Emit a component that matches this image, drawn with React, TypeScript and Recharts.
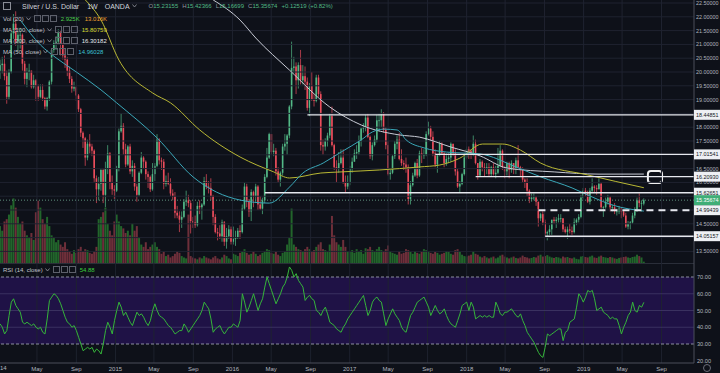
import React from "react";
import { ComposedChart, Bar, Line, XAxis, YAxis, ReferenceLine, ReferenceArea } from "recharts";

// weekly candles [open, high, low, close], week 0 = 6 Jan 2014
const ohlc2014 = [
  [20.05, 20.45, 19.75, 20.25], [20.25, 20.55, 19.95, 20.3], [20.3, 20.6, 19.7, 19.85], [19.85, 20.05, 18.85, 19.1],
  [19.1, 20.1, 19.0, 20.0], [20.0, 21.5, 19.95, 21.4], [21.4, 22.1, 21.2, 21.75], [21.75, 22.2, 20.95, 21.1],
  [21.1, 21.6, 20.7, 21.35], [21.35, 21.6, 20.85, 21.35], [21.35, 21.4, 20.05, 20.3], [20.3, 20.4, 19.55, 19.75],
  [19.75, 20.15, 19.45, 20.0], [20.0, 20.3, 19.7, 20.05], [20.05, 20.05, 19.4, 19.45], [19.45, 19.9, 19.4, 19.7],
  [19.7, 19.75, 18.95, 19.5], [19.5, 19.55, 18.95, 19.1], [19.1, 19.55, 19.05, 19.35], [19.35, 19.55, 18.95, 19.05],
  [19.05, 19.1, 18.65, 18.75], [18.75, 19.1, 18.6, 19.05], [19.05, 19.7, 18.95, 19.65], [19.65, 20.85, 19.55, 20.8],
  [20.8, 21.15, 20.7, 21.05], [21.05, 21.3, 20.8, 21.1], [21.1, 21.55, 21.0, 21.45], [21.45, 21.5, 20.6, 21.0],
  [21.0, 21.05, 20.45, 20.6], [20.6, 20.85, 20.15, 20.45], [20.45, 20.55, 19.85, 20.05], [20.05, 20.2, 19.6, 19.75],
  [19.75, 19.85, 19.25, 19.4], [19.4, 19.65, 19.3, 19.45], [19.45, 19.5, 18.95, 19.15], [19.15, 19.2, 18.55, 18.65],
  [18.65, 18.7, 17.65, 17.8], [17.8, 17.85, 17.25, 17.6], [17.6, 17.65, 16.6, 16.9], [16.9, 17.55, 16.8, 17.4],
  [17.4, 17.75, 17.05, 17.3], [17.3, 17.4, 16.95, 17.15], [17.15, 17.2, 16.0, 16.15], [16.15, 16.25, 15.25, 15.75],
  [15.75, 16.2, 15.35, 15.95], [15.95, 16.5, 15.7, 16.45], [16.45, 16.5, 15.25, 15.55], [15.55, 16.75, 15.1, 16.5],
  [16.5, 17.35, 16.3, 17.05], [17.05, 17.1, 15.75, 16.0], [16.0, 16.25, 15.55, 15.75], [15.75, 15.9, 15.4, 15.7],
];
const ohlc2015 = [
  [15.7, 16.6, 15.65, 16.5], [16.5, 17.95, 16.4, 17.85], [17.85, 18.5, 17.8, 18.05], [18.05, 18.15, 17.0, 17.2],
  [17.2, 17.4, 16.55, 16.65], [16.65, 17.35, 16.6, 17.3], [17.3, 17.4, 16.3, 16.4], [16.4, 16.8, 16.2, 16.6],
  [16.6, 16.7, 15.7, 15.85], [15.85, 15.95, 15.3, 15.55], [15.55, 16.4, 15.5, 16.35], [16.35, 17.1, 16.3, 16.9],
  [16.9, 16.95, 16.5, 16.75], [16.75, 16.8, 16.1, 16.3], [16.3, 16.4, 15.8, 16.2], [16.2, 16.25, 15.65, 15.75],
  [15.75, 16.7, 15.7, 16.3], [16.3, 16.7, 16.05, 16.6], [16.6, 17.75, 16.55, 17.55], [17.55, 17.6, 16.65, 16.8],
  [16.8, 16.9, 16.45, 16.75], [16.75, 16.85, 15.75, 15.95], [15.95, 16.25, 15.85, 16.05], [16.05, 16.35, 15.9, 15.95],
  [15.95, 16.15, 15.5, 15.6], [15.6, 15.75, 15.35, 15.5], [15.5, 15.65, 14.7, 14.9], [14.9, 15.15, 14.7, 14.8],
  [14.8, 14.95, 14.2, 14.65], [14.65, 14.95, 14.35, 14.75], [14.75, 15.4, 14.7, 15.3], [15.3, 15.7, 15.15, 15.35],
  [15.35, 15.55, 15.1, 15.25], [15.25, 15.35, 14.15, 14.6], [14.6, 14.75, 14.35, 14.55], [14.55, 14.8, 14.35, 14.45],
  [14.45, 15.3, 14.4, 15.15], [15.15, 15.35, 14.85, 15.1], [15.1, 15.25, 14.65, 15.2], [15.2, 16.2, 15.15, 16.05],
  [16.05, 16.3, 15.75, 15.85], [15.85, 16.05, 15.6, 15.8], [15.8, 16.15, 15.35, 15.5], [15.5, 15.55, 14.45, 14.75],
  [14.75, 14.85, 14.15, 14.2], [14.2, 14.35, 13.9, 14.15], [14.15, 14.45, 13.95, 14.05], [14.05, 14.65, 13.85, 14.55],
  [14.55, 14.6, 13.7, 13.85], [13.85, 14.35, 13.6, 14.05], [14.05, 14.45, 13.95, 14.3], [14.3, 14.4, 13.75, 13.85],
];
const ohlc2016 = [
  [13.85, 14.4, 13.75, 13.95], [13.95, 14.25, 13.7, 14.0], [14.0, 14.35, 13.95, 14.25], [14.25, 14.45, 13.95, 14.2],
  [14.2, 15.2, 14.15, 15.05], [15.05, 16.0, 15.0, 15.85], [15.85, 15.95, 15.1, 15.3], [15.3, 15.4, 14.75, 14.95],
  [14.95, 15.75, 14.6, 15.65], [15.65, 15.7, 15.1, 15.5], [15.5, 15.95, 15.25, 15.85], [15.85, 15.9, 15.0, 15.2],
  [15.2, 15.5, 15.0, 15.05], [15.05, 15.45, 14.85, 15.35], [15.35, 16.3, 15.25, 16.2], [16.2, 17.25, 16.15, 16.9],
  [16.9, 17.8, 16.85, 17.75], [17.75, 17.75, 17.0, 17.1], [17.1, 17.4, 16.95, 17.15], [17.15, 17.25, 16.25, 16.4],
  [16.4, 16.55, 16.0, 16.1], [16.1, 16.4, 15.85, 16.35], [16.35, 17.4, 16.25, 17.3], [17.3, 17.75, 17.15, 17.4],
  [17.4, 17.75, 17.0, 17.7], [17.7, 18.8, 17.6, 18.75], [18.75, 21.1, 18.65, 20.15], [20.15, 20.55, 19.95, 20.2],
  [20.2, 20.35, 19.2, 19.7], [19.7, 20.35, 19.4, 20.25], [20.25, 20.8, 19.55, 19.7], [19.7, 20.25, 19.55, 19.85],
  [19.85, 20.2, 19.35, 19.65], [19.65, 19.8, 18.6, 18.7], [18.7, 19.6, 18.4, 19.5], [19.5, 20.0, 18.95, 19.0],
  [19.0, 19.2, 18.75, 18.95], [18.95, 19.9, 18.9, 19.8], [19.8, 19.9, 19.1, 19.2], [19.2, 19.3, 17.15, 17.35],
  [17.35, 17.55, 17.0, 17.3], [17.3, 17.6, 17.15, 17.5], [17.5, 17.8, 17.3, 17.7], [17.7, 18.5, 17.6, 18.4],
  [18.4, 18.75, 17.3, 17.35], [17.35, 17.4, 16.45, 16.55], [16.55, 16.8, 16.0, 16.5], [16.5, 17.1, 16.35, 16.7],
  [16.7, 17.2, 16.65, 16.9], [16.9, 17.2, 15.95, 16.0], [16.0, 16.25, 15.65, 15.85], [15.85, 16.25, 15.75, 16.0],
];
const ohlc2017 = [
  [16.0, 16.6, 15.9, 16.5], [16.5, 16.9, 16.35, 16.75], [16.75, 17.2, 16.75, 17.05], [17.05, 17.35, 16.85, 17.1],
  [17.1, 17.7, 17.0, 17.5], [17.5, 18.0, 17.3, 17.95], [17.95, 18.15, 17.8, 18.0], [18.0, 18.45, 17.85, 18.35],
  [18.35, 18.5, 17.6, 17.65], [17.65, 17.7, 16.85, 16.95], [16.95, 17.45, 16.8, 17.35], [17.35, 17.7, 17.3, 17.55],
  [17.55, 18.45, 17.45, 18.25], [18.25, 18.5, 17.85, 18.25], [18.25, 18.65, 18.0, 18.5], [18.5, 18.55, 17.8, 17.9],
  [17.9, 18.0, 17.2, 17.35], [17.35, 17.5, 16.25, 16.3], [16.3, 16.45, 16.1, 16.35], [16.35, 17.0, 16.3, 16.95],
  [16.95, 17.5, 16.85, 17.4], [17.4, 17.7, 17.2, 17.55], [17.55, 17.8, 16.8, 16.85], [16.85, 17.2, 16.6, 16.7],
  [16.7, 16.8, 16.45, 16.65], [16.65, 16.9, 16.35, 16.55], [16.55, 16.65, 15.2, 15.4], [15.4, 16.05, 15.2, 15.9],
  [15.9, 16.35, 15.85, 16.25], [16.25, 16.75, 16.2, 16.7], [16.7, 16.85, 16.15, 16.25], [16.25, 17.15, 16.2, 17.05],
  [17.05, 17.25, 16.7, 17.0], [17.0, 17.2, 16.85, 17.0], [17.0, 17.85, 16.95, 17.75], [17.75, 18.2, 17.7, 17.95],
  [17.95, 18.05, 17.5, 17.65], [17.65, 17.85, 16.95, 17.05], [17.05, 17.2, 16.55, 16.65], [16.65, 16.8, 16.35, 17.0],
  [17.0, 17.5, 16.95, 17.4], [17.4, 17.45, 17.0, 17.05], [17.05, 17.1, 16.55, 16.7], [16.7, 17.05, 16.6, 16.85],
  [16.85, 17.05, 16.7, 16.9], [16.9, 17.45, 16.75, 17.4], [17.4, 17.4, 16.95, 17.05], [17.05, 17.2, 16.25, 16.4],
  [16.4, 16.5, 15.8, 15.85], [15.85, 16.05, 15.65, 15.95], [15.95, 16.35, 15.9, 16.3], [16.3, 17.05, 16.25, 16.9],
];
const ohlc2018 = [
  [16.9, 17.3, 16.85, 17.2], [17.2, 17.3, 16.85, 17.15], [17.15, 17.2, 16.85, 17.05], [17.05, 17.7, 16.95, 17.4],
  [17.4, 17.55, 16.65, 16.7], [16.7, 16.7, 16.1, 16.25], [16.25, 16.85, 16.2, 16.75], [16.75, 16.8, 16.4, 16.55],
  [16.55, 16.7, 16.2, 16.5], [16.5, 16.7, 16.3, 16.55], [16.55, 16.7, 16.2, 16.3], [16.3, 16.6, 16.2, 16.55],
  [16.55, 16.7, 16.25, 16.3], [16.3, 16.6, 16.15, 16.35], [16.35, 17.25, 16.3, 16.6], [16.6, 17.35, 16.55, 17.15],
  [17.15, 17.2, 16.45, 16.55], [16.55, 16.6, 16.15, 16.4], [16.4, 16.75, 16.25, 16.7], [16.7, 16.75, 16.15, 16.45],
  [16.45, 16.8, 16.35, 16.7], [16.7, 16.7, 16.3, 16.45], [16.45, 16.9, 16.3, 16.8], [16.8, 17.35, 16.5, 16.55],
  [16.55, 16.6, 16.2, 16.5], [16.5, 16.55, 16.0, 16.1], [16.1, 16.15, 15.8, 16.0], [16.0, 16.15, 15.5, 15.7],
  [15.7, 15.75, 15.25, 15.4], [15.4, 15.6, 15.3, 15.45], [15.45, 15.6, 15.35, 15.45], [15.45, 15.5, 15.15, 15.3],
  [15.3, 15.3, 14.4, 14.7], [14.7, 14.9, 14.6, 14.85], [14.85, 14.95, 14.45, 14.55], [14.55, 14.65, 14.05, 14.15],
  [14.15, 14.25, 13.9, 14.2], [14.2, 14.45, 14.1, 14.3], [14.3, 14.45, 14.1, 14.65], [14.65, 14.75, 14.5, 14.6],
  [14.6, 14.75, 14.35, 14.65], [14.65, 14.85, 14.55, 14.7], [14.7, 14.85, 14.55, 14.7], [14.7, 14.7, 14.2, 14.3],
  [14.3, 14.4, 14.15, 14.2], [14.2, 14.4, 13.95, 14.3], [14.3, 14.5, 14.15, 14.25], [14.25, 14.4, 14.1, 14.2],
  [14.2, 14.7, 14.15, 14.55], [14.55, 14.7, 14.45, 14.65], [14.65, 14.85, 14.55, 14.75], [14.75, 15.55, 14.7, 15.45],
];
const ohlc2019 = [
  [15.45, 15.8, 15.4, 15.7], [15.7, 15.8, 15.5, 15.65], [15.65, 15.7, 15.25, 15.3], [15.3, 15.8, 15.2, 15.7],
  [15.7, 16.15, 15.65, 15.85], [15.85, 15.9, 15.65, 15.8], [15.8, 15.9, 15.55, 15.75], [15.75, 16.15, 15.75, 15.95],
  [15.95, 16.0, 15.05, 15.1], [15.1, 15.15, 14.75, 15.1], [15.1, 15.45, 15.05, 15.3], [15.3, 15.55, 15.2, 15.45],
  [15.45, 15.5, 14.95, 15.1], [15.1, 15.2, 14.95, 15.1], [15.1, 15.25, 14.85, 14.95], [14.95, 15.05, 14.8, 14.95],
  [14.95, 15.15, 14.85, 15.05], [15.05, 15.1, 14.7, 14.95], [14.95, 15.0, 14.75, 14.8], [14.8, 14.9, 14.35, 14.4],
  [14.4, 14.6, 14.3, 14.5], [14.5, 14.6, 14.3, 14.55], [14.55, 14.9, 14.5, 14.8], [14.8, 15.1, 14.7, 14.95],
  [14.95, 15.45, 14.95, 15.35], [15.35, 15.6, 15.1, 15.25], [15.25, 15.35, 14.95, 15.25], [15.23155, 15.42366, 15.16699, 15.35674],
];

// weekly volume, thousands
const vol2014 = [80, 70, 90, 95, 105, 125, 140, 120, 100, 85, 90, 70, 60, 55, 65, 50, 110, 135, 120, 95, 85, 100, 80, 60, 55, 45, 50, 40, 35, 45, 30, 25, 20, 28, 22, 30, 35, 25, 30, 28, 22, 20, 25, 35, 95, 100, 110, 120, 85, 70, 60, 90];
const vol2015 = [105, 90, 80, 75, 65, 70, 60, 85, 70, 80, 55, 40, 35, 45, 30, 35, 40, 45, 35, 30, 20, 25, 15, 18, 12, 15, 20, 25, 22, 15, 12, 10, 105, 15, 12, 10, 8, 12, 10, 15, 12, 10, 8, 12, 15, 10, 8, 12, 18, 15, 10, 8];
const vol2016 = [20, 18, 15, 22, 25, 30, 22, 18, 20, 25, 20, 15, 18, 22, 25, 30, 28, 22, 20, 25, 18, 15, 22, 25, 40, 55, 118, 40, 35, 30, 28, 25, 30, 35, 30, 25, 28, 35, 40, 45, 30, 28, 25, 40, 102, 60, 45, 40, 35, 50, 35, 25];
const vol2017 = [25, 28, 22, 30, 25, 28, 20, 32, 30, 35, 28, 25, 30, 35, 28, 25, 30, 38, 25, 22, 20, 18, 25, 20, 22, 30, 28, 24, 20, 26, 22, 20, 24, 30, 28, 25, 22, 20, 24, 22, 18, 20, 22, 26, 24, 20, 18, 28, 30, 24, 18, 15];
const vol2018 = [14, 16, 18, 26, 20, 18, 14, 12, 15, 12, 10, 12, 14, 10, 12, 16, 18, 14, 12, 10, 12, 14, 11, 10, 12, 16, 13, 12, 10, 11, 13, 12, 16, 18, 14, 15, 17, 14, 12, 11, 13, 12, 10, 14, 12, 13, 11, 10, 12, 9, 8, 14];
const vol2019 = [15, 13, 12, 14, 16, 12, 11, 14, 16, 13, 12, 11, 13, 12, 10, 9, 11, 12, 13, 14, 12, 11, 13, 14, 18, 15, 12, 2.925];

// RSI(14)
const rsi2014 = [42, 40, 36, 38, 47, 55, 57, 53, 51, 49, 43, 42, 43, 42, 41, 42, 40, 39, 40, 37, 36, 45, 56, 58, 60, 59, 57, 54, 50, 46, 43, 42, 40, 41, 38, 34, 30, 26, 27, 28, 27, 28, 25, 27, 26, 24, 30, 38, 43, 40, 36, 44];
const rsi2015 = [50, 55, 52, 47, 49, 46, 43, 41, 45, 49, 47, 48, 46, 43, 41, 44, 50, 54, 50, 47, 46, 45, 43, 41, 40, 38, 36, 37, 38, 38, 42, 40, 37, 39, 41, 43, 45, 47, 50, 55, 53, 51, 45, 37, 39, 40, 41, 38, 36, 38, 40, 40];
const rsi2016 = [42, 41, 40, 44, 60, 55, 49, 52, 56, 60, 55, 50, 54, 57, 64, 70, 66, 62, 58, 54, 57, 60, 64, 66, 70, 76, 74, 70, 72, 68, 66, 64, 56, 58, 59, 57, 56, 50, 49, 47, 50, 52, 48, 43, 42, 41, 39, 38, 37, 40, 42, 45];
const rsi2017 = [47, 49, 51, 53, 55, 57, 59, 53, 47, 50, 55, 57, 58, 56, 55, 48, 41, 45, 48, 51, 48, 46, 44, 40, 38, 37, 42, 47, 49, 52, 55, 56, 57, 58, 55, 52, 47, 50, 53, 50, 48, 49, 51, 47, 44, 42, 41, 40, 44, 48, 53, 54];
const rsi2018 = [55, 50, 55, 52, 45, 46, 47, 46, 47, 46, 47, 46, 46, 55, 52, 48, 47, 49, 49, 50, 51, 49, 47, 46, 48, 44, 41, 37, 35, 33, 31, 28, 25, 23, 22, 28, 36, 35, 36, 37, 38, 39, 39, 32, 37, 38, 43, 44, 45, 52, 60, 58];
const rsi2019 = [55, 58, 62, 61, 62, 57, 50, 51, 52, 49, 48, 47, 45, 46, 45, 45, 41, 36, 40, 43, 47, 49, 55, 50, 49, 53, 52, 54.88];

// moving averages: [week, value]
const ma50Pts = [[9, 21.88], [18, 20.98], [25, 20.51], [34, 20.0], [45, 19.35], [52, 18.88], [70, 17.61], [86, 16.2], [107, 15.36], [120, 15.25], [129, 15.83], [135, 16.34], [144, 16.7], [152, 17.1], [161, 17.54], [166, 17.83], [171, 17.93], [177, 17.9], [181, 17.54], [189, 17.25], [199, 17.1], [214, 17.03], [230, 16.56], [241, 16.2], [255, 15.8], [264, 15.47], [273, 15.18], [287, 14.96028]];
const ma100Pts = [[38, 22.61], [45, 21.88], [53, 20.43], [68, 19.24], [76, 18.88], [89, 17.9], [107, 16.92], [122, 16.38], [129, 16.16], [143, 16.34], [152, 16.38], [169, 16.45], [187, 16.56], [196, 16.63], [205, 16.88], [215, 17.39], [224, 17.39], [232, 17.17], [241, 16.7], [262, 16.27], [287, 15.80759]];
const ma200Pts = [[95, 22.61], [107, 21.88], [114, 21.23], [129, 20.07], [147, 18.73], [161, 18.08], [178, 17.72], [187, 17.64], [201, 17.28], [214, 16.96], [226, 16.52], [247, 16.38], [267, 16.3], [287, 16.30182]];

// drawn horizontal levels: value, first week
const levels = [
  { v: 18.44851, from: 137, dash: false },
  { v: 17.01541, from: 194, dash: false },
  { v: 16.2093, from: 212, dash: false },
  { v: 15.62651, from: 118, dash: false },
  { v: 14.99439, from: 240, dash: true },
  { v: 14.05157, from: 243, dash: false },
];
const LAST = 15.35674;
const priceTicks = [22.5, 22, 21.5, 21, 20.5, 20, 19.5, 19, 18, 17.5, 16.5, 16, 14.5, 13.5];
const gridPrices = [13.5, 14, 14.5, 15, 15.5, 16, 16.5, 17, 17.5, 18, 18.5, 19, 19.5, 20, 20.5, 21, 21.5, 22, 22.5];
const rsiTicks = [20, 30, 40, 50, 60, 70];
const MONTHS = ["Jan", "Feb", "Mar", "Apr", "May", "Jun", "Jul", "Aug", "Sep", "Oct", "Nov", "Dec"];

const BG = "#0e1119";
const GRID = "#1f2330";
const AXIS = "#4a4e5a";
const TXT = "#b2b5be";
const UP = "#53b987";
const DOWN = "#eb4d5c";
const FONT = "'Liberation Sans', Arial, sans-serif";

const START = Date.UTC(2014, 0, 6);
const WEEK = 7 * 864e5;
const X_DOMAIN: [number, number] = [-0.05, 309.35];

const timeTicks: { t: number; label: string }[] = [];
for (let y = 2014; y <= 2019; y++) {
  for (const m of [0, 4, 8]) {
    const t = (Date.UTC(y, m, 1) - START) / WEEK;
    if (t >= X_DOMAIN[0] && t <= X_DOMAIN[1]) timeTicks.push({ t, label: m === 0 ? String(y) : MONTHS[m] });
  }
}

const ohlc = [...ohlc2014, ...ohlc2015, ...ohlc2016, ...ohlc2017, ...ohlc2018, ...ohlc2019];
const volumes = [...vol2014, ...vol2015, ...vol2016, ...vol2017, ...vol2018, ...vol2019];
const rsiVals = [...rsi2014, ...rsi2015, ...rsi2016, ...rsi2017, ...rsi2018, ...rsi2019];
const toMap = (pts: number[][]) => new Map(pts.map((p) => [p[0], p[1]]));
const m50 = toMap(ma50Pts);
const m100 = toMap(ma100Pts);
const m200 = toMap(ma200Pts);

const rows = ohlc.map((r, i) => ({
  i,
  o: r[0],
  h: r[1],
  l: r[2],
  c: r[3],
  range: [r[2], r[1]],
  vol: volumes[i] ?? 0,
  rsi: rsiVals[i] ?? null,
  ma50: m50.get(i) ?? null,
  ma100: m100.get(i) ?? null,
  ma200: m200.get(i) ?? null,
}));

const Candle = (props: any) => {
  const { x, y, width, height, payload } = props;
  if (!payload || height == null) return null;
  const top = Math.min(y, y + height);
  const bot = Math.max(y, y + height);
  const { o, h, l, c } = payload;
  const py = (v: number) => top + ((h - v) / (h - l)) * (bot - top);
  const cx = x + width / 2;
  const col = c >= o ? UP : DOWN;
  const bt = py(Math.max(o, c));
  const bb = py(Math.min(o, c));
  return (
    <g>
      <line x1={cx} x2={cx} y1={top} y2={bot} stroke={col} strokeWidth={0.7} />
      <rect x={cx - 0.8} y={bt} width={1.6} height={Math.max(0.8, bb - bt)} fill={col} />
    </g>
  );
};

const VolBar = (props: any) => {
  const { x, y, width, height, payload } = props;
  if (!payload || !height) return null;
  return <rect x={x} y={y} width={width} height={height} fill={payload.c >= payload.o ? "#22652b" : "#6e2f3a"} />;
};

const PriceTick = (props: any) => {
  const { x, y, payload } = props;
  const v = payload.value;
  const lvl = levels.find((l) => l.v === v);
  if (v === LAST) {
    return (
      <g>
        <rect x={x - 2} y={y - 5} width={26} height={10} fill="#3fae77" />
        <text x={x} y={y + 2} fontSize={5.4} fill="#ffffff" fontFamily={FONT}>{v.toFixed(5)}</text>
      </g>
    );
  }
  if (lvl) {
    return (
      <g>
        <rect x={x - 2} y={y - 5} width={26} height={10} fill="#eef0f4" />
        <text x={x} y={y + 2} fontSize={5.4} fill="#131722" fontFamily={FONT}>{v.toFixed(5)}</text>
      </g>
    );
  }
  return <text x={x} y={y + 2} fontSize={5.4} fill={TXT} fontFamily={FONT}>{v.toFixed(5)}</text>;
};

const RsiTick = (props: any) => {
  const { x, y, payload } = props;
  return <text x={x + 1} y={y + 2} fontSize={5.6} fill={TXT} fontFamily={FONT}>{payload.value.toFixed(2)}</text>;
};

const TimeTick = (props: any) => {
  const { x, y, payload } = props;
  const tk = timeTicks.find((t) => Math.abs(t.t - payload.value) < 1e-6);
  return <text x={x} y={y + 8} fontSize={6} fill={TXT} textAnchor="middle" fontFamily={FONT}>{tk ? tk.label : ""}</text>;
};

const Chevron = () => (
  <svg width="5" height="4" style={{ margin: "0 3px 0 2px" }}>
    <polyline points="0.5,0.5 2.5,3 4.5,0.5" fill="none" stroke="#9598a1" strokeWidth={0.8} />
  </svg>
);

const Icons = () => (
  <span style={{ display: "inline-flex", gap: 1, marginRight: 4 }}>
    {[0, 1, 2].map((k) => (
      <span key={k} style={{ width: 5, height: 5, border: "1px solid #5d606b", display: "inline-block" }} />
    ))}
  </span>
);

const legendRow = (top: number, label: string, vals: { t: string; c: string }[]) => (
  <div style={{ position: "absolute", top, left: 3, display: "flex", alignItems: "center", fontSize: 6, color: "#c0c3cc", whiteSpace: "nowrap" }}>
    <span>{label}</span>
    <Chevron />
    <Icons />
    {vals.map((v, k) => (
      <span key={k} style={{ color: v.c, marginRight: 5 }}>{v.t}</span>
    ))}
  </div>
);

export default function App() {
  return (
    <div style={{ position: "absolute", left: 0, top: 0, width: 720, height: 373, background: BG, overflow: "hidden", fontFamily: FONT }}>
      <ComposedChart width={720} height={263} data={rows} margin={{ top: 0, right: 0, bottom: 0, left: 0 }}>
        <XAxis xAxisId="p" dataKey="i" type="number" domain={X_DOMAIN} hide allowDataOverflow />
        <XAxis xAxisId="v" dataKey="i" type="number" domain={X_DOMAIN} hide allowDataOverflow />
        <YAxis yAxisId="vol" hide domain={[0, 570]} allowDataOverflow />
        <YAxis
          yAxisId="price"
          orientation="right"
          width={26}
          domain={[13.08, 22.609]}
          allowDataOverflow
          ticks={[...priceTicks, ...levels.map((l) => l.v), LAST]}
          interval={0}
          tick={<PriceTick />}
          tickSize={0}
          tickMargin={2}
          tickLine={false}
          axisLine={{ stroke: AXIS }}
        />
        {timeTicks.map((t) => (
          <ReferenceLine key={"vx" + t.t} xAxisId="p" yAxisId="price" x={t.t} stroke={GRID} />
        ))}
        {gridPrices.map((p) => (
          <ReferenceLine key={"gy" + p} xAxisId="p" yAxisId="price" y={p} stroke={GRID} />
        ))}
        <Bar xAxisId="v" yAxisId="vol" dataKey="vol" barSize={2} shape={<VolBar />} isAnimationActive={false} />
        <ReferenceLine xAxisId="p" yAxisId="price" y={LAST} stroke="#5f8f7c" strokeDasharray="1 2" />
        <Line xAxisId="p" yAxisId="price" dataKey="ma200" stroke="#c9ccd6" strokeWidth={1} dot={false} connectNulls type="monotone" isAnimationActive={false} />
        <Line xAxisId="p" yAxisId="price" dataKey="ma100" stroke="#b9b834" strokeWidth={1} dot={false} connectNulls type="monotone" isAnimationActive={false} />
        <Line xAxisId="p" yAxisId="price" dataKey="ma50" stroke="#3aa7b8" strokeWidth={1} dot={false} connectNulls type="monotone" isAnimationActive={false} />
        <Bar xAxisId="p" yAxisId="price" dataKey="range" barSize={2} shape={<Candle />} isAnimationActive={false} />
        {levels.map((l) => (
          <ReferenceLine
            key={"lv" + l.v}
            xAxisId="p"
            yAxisId="price"
            segment={[{ x: l.from, y: l.v }, { x: X_DOMAIN[1], y: l.v }]}
            stroke="#e6e8ee"
            strokeWidth={l.dash ? 2 : 1.4}
            strokeDasharray={l.dash ? "7 5" : undefined}
          />
        ))}
        <ReferenceArea
          xAxisId="p"
          yAxisId="price"
          x1={288.8}
          x2={295.1}
          y1={15.98}
          y2={16.41}
          shape={(p: any) => (
            <rect x={p.x} y={p.y} width={p.width} height={p.height} rx={3} fill={BG} stroke="#f0f0f0" strokeWidth={2} />
          )}
        />
      </ComposedChart>

      <div style={{ position: "absolute", left: 0, top: 263, width: 694, height: 1, background: "#2a2e39" }} />

      <div style={{ position: "absolute", left: 0, top: 263 }}>
        <ComposedChart width={720} height={110} data={rows} margin={{ top: 0, right: 0, bottom: 0, left: 0 }}>
          <XAxis
            dataKey="i"
            type="number"
            domain={X_DOMAIN}
            allowDataOverflow
            ticks={timeTicks.map((t) => t.t)}
            interval={0}
            tick={<TimeTick />}
            height={10}
            tickSize={0}
            tickMargin={0}
            tickLine={false}
            axisLine={{ stroke: AXIS }}
          />
          <YAxis
            orientation="right"
            width={26}
            domain={[18.66, 78.36]}
            allowDataOverflow
            ticks={rsiTicks}
            interval={0}
            tick={<RsiTick />}
            tickSize={0}
            tickMargin={2}
            tickLine={false}
            axisLine={{ stroke: AXIS }}
          />
          <ReferenceArea y1={30} y2={70} fill="#1f1246" fillOpacity={1} stroke="none" />
          {timeTicks.map((t) => (
            <ReferenceLine key={"rx" + t.t} x={t.t} stroke={GRID} strokeOpacity={0.9} />
          ))}
          {[40, 50, 60].map((v) => (
            <ReferenceLine key={"ry" + v} y={v} stroke="#3a3160" />
          ))}
          <ReferenceLine y={70} stroke="#8c8fa0" strokeDasharray="3 2" />
          <ReferenceLine y={30} stroke="#8c8fa0" strokeDasharray="3 2" />
          <Line dataKey="rsi" stroke="#35b53a" strokeWidth={1} dot={false} type="linear" isAnimationActive={false} />
        </ComposedChart>
      </div>

      {/* legend */}
      <div style={{ position: "absolute", top: 2, left: 3, display: "flex", alignItems: "center", fontSize: 7, color: "#d1d4dc", whiteSpace: "nowrap" }}>
        <span style={{ width: 6, height: 6, border: "1px solid #8a8d96", display: "inline-block", marginRight: 11 }} />
        <span style={{ marginRight: 8 }}>Silver / U.S. Dollar</span>
        <span style={{ marginRight: 7 }}>1W</span>
        <span>OANDA</span>
        <Chevron />
        <span style={{ fontSize: 6, marginLeft: 9 }}>
          {[["O", "15.23155"], ["H", "15.42366"], ["L", "15.16699"], ["C", "15.35674"]].map(([k, v]) => (
            <span key={k} style={{ marginRight: 4 }}>
              <span style={{ color: "#9598a1" }}>{k}</span>
              <span style={{ color: UP }}>{v}</span>
            </span>
          ))}
          <span style={{ color: UP }}>+0.12519 (+0.82%)</span>
        </span>
      </div>
      {legendRow(15, "Vol (20)", [{ t: "2.925K", c: "#4ccf4c" }, { t: "13.016K", c: "#f0a030" }])}
      {legendRow(26, "MA (100, close)", [{ t: "15.80759", c: "#d8d830" }])}
      {legendRow(37, "MA (200, close)", [{ t: "16.30182", c: "#e6e8ee" }])}
      {legendRow(48, "MA (50, close)", [{ t: "14.96028", c: "#3cc1d4" }])}
      {legendRow(266, "RSI (14, close)", [{ t: "54.88", c: "#3ccf3c" }])}

      <div style={{ position: "absolute", left: 0, top: 365, fontSize: 6, color: TXT }}>14</div>
      <div style={{ position: "absolute", left: 703, top: 364, width: 6, height: 6, borderRadius: 4, border: "1px solid #6a6d78" }} />
    </div>
  );
}
